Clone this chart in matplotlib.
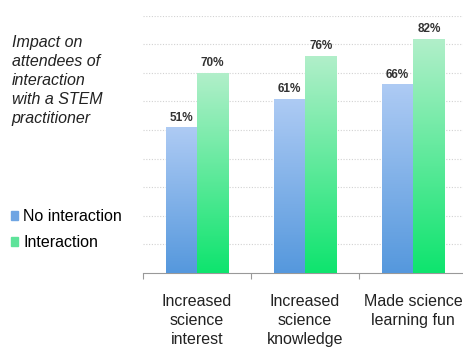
import numpy as np
from matplotlib import pyplot as plt
from matplotlib.colors import LinearSegmentedColormap
from matplotlib.patches import Rectangle

plt.rcParams['font.family'] = ['Liberation Sans', 'DejaVu Sans']

categories = ['Increased\nscience\ninterest', 'Increased\nscience\nknowledge',
              'Made science\nlearning fun']
no_interaction = [51, 61, 66]
interaction = [70, 76, 82]
series_names = ['No interaction', 'Interaction']

blue_map = LinearSegmentedColormap.from_list('blue', ['#5598dd', '#aecbf4'])
green_map = LinearSegmentedColormap.from_list('green', ['#0ee46e', '#b2efca'])

fig = plt.figure(figsize=(4.64, 3.47), dpi=100)
ax = fig.add_axes([0.308, 0.213, 0.692, 0.742])

x = np.arange(len(categories))
width = 0.29
grad = np.linspace(0, 1, 256).reshape(-1, 1)


def gradient_bar(xc, h, cmap):
    # draw the bar, then fill it with a vertical gradient clipped to it
    rect = Rectangle((xc - width / 2, 0), width, h, facecolor='none',
                     edgecolor='none', zorder=3)
    ax.add_patch(rect)
    img = ax.imshow(grad, cmap=cmap, origin='lower', aspect='auto',
                    extent=(xc - width / 2, xc + width / 2, 0, h), zorder=3)
    img.set_clip_path(rect)
    ax.text(xc, h + 1.2, f'{h}%', ha='center', va='bottom', fontsize=8.5,
            fontweight='bold', color='#333333', zorder=4)


for i in range(len(categories)):
    gradient_bar(x[i] - width / 2, no_interaction[i], blue_map)
    gradient_bar(x[i] + width / 2, interaction[i], green_map)

ax.set_xlim(-0.5, 2.47)
ax.set_ylim(0, 90)
ax.set_yticks(np.arange(10, 91, 10))
ax.tick_params(axis='y', length=0, labelleft=False)
ax.yaxis.grid(True, linestyle=(0, (1, 1.5)), color='#d2d2d2', linewidth=0.8)
ax.set_axisbelow(True)
for side in ['left', 'right', 'top']:
    ax.spines[side].set_visible(False)
ax.spines['bottom'].set_color('#999999')

ax.set_xticks([-0.5, 0.5, 1.5])
ax.set_xticks(x, minor=True)
ax.set_xticklabels(categories, minor=True, fontsize=11.5, color='#222222',
                   linespacing=1.32)
ax.tick_params(axis='x', which='major', length=4, color='#999999',
               labelbottom=False)
ax.tick_params(axis='x', which='minor', length=0, pad=15)

fig.text(0.025, 0.90, 'Impact on\nattendees of\ninteraction\nwith a STEM\npractitioner',
         fontsize=11.5, style='italic', color='#222222', va='top', ha='left',
         linespacing=1.33)

handles = [Rectangle((0, 0), 1, 1, color='#6fa5e3'),
           Rectangle((0, 0), 1, 1, color='#5ee39a')]
fig.legend(handles, series_names, loc='upper left',
           bbox_to_anchor=(0.0, 0.43), frameon=False, fontsize=11.5,
           handlelength=0.45, handleheight=0.45, handletextpad=0.3,
           labelspacing=0.7, borderaxespad=0.3)

fig.savefig('out.png', dpi=100)
